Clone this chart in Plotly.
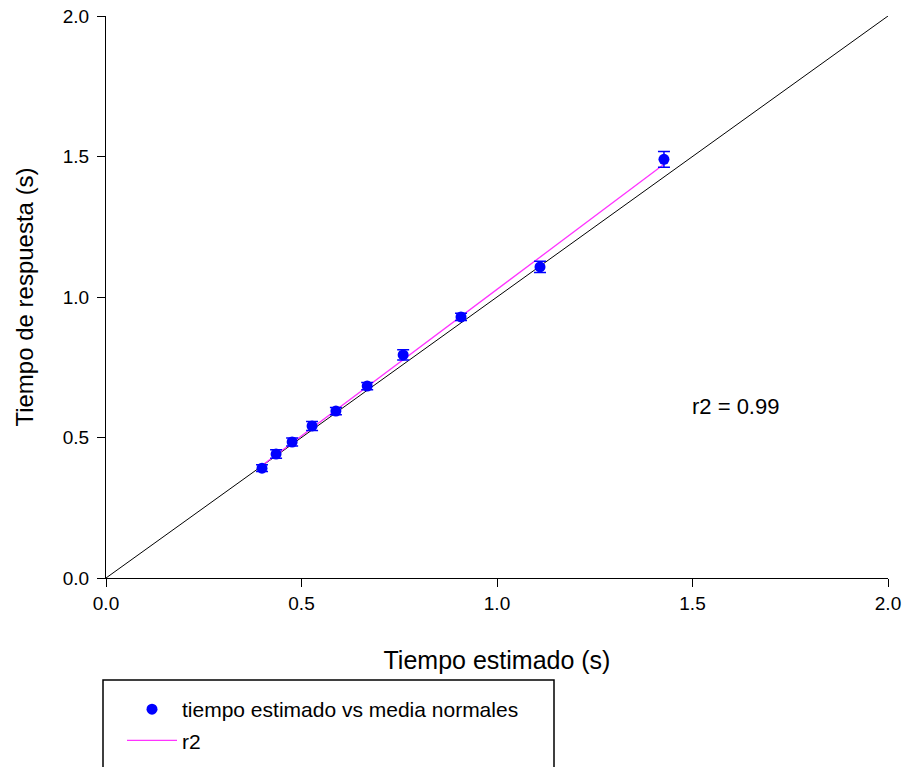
import numpy as np
import plotly.graph_objects as go

# Data
tiempo_estimado = [0.399, 0.435, 0.476, 0.527, 0.588, 0.668, 0.760, 0.908, 1.110, 1.427]
tiempo_respuesta = [0.391, 0.441, 0.484, 0.541, 0.594, 0.683, 0.794, 0.929, 1.107, 1.490]
error_respuesta = [0.012, 0.015, 0.014, 0.016, 0.013, 0.013, 0.018, 0.013, 0.020, 0.028]
identidad = [0.0, 2.0]
tick_vals = [0.0, 0.5, 1.0, 1.5, 2.0]
tick_text = ["0.0", "0.5", "1.0", "1.5", "2.0"]
r2_text = "r2 = 0.99"

# Linear fit (regression line)
slope, intercept = np.polyfit(tiempo_estimado, tiempo_respuesta, 1)
fit_x = [min(tiempo_estimado), max(tiempo_estimado)]
fit_y = [slope * v + intercept for v in fit_x]

W, H = 908, 767
ML, MR, MT, MB = 106, 20, 16, 189
PW = W - ML - MR
PH = H - MT - MB

def px_x(p):
    return (p - ML) / PW

def px_y(p):
    return (H - MB - p) / PH

FONT = "Liberation Sans, Arial, sans-serif"

fig = go.Figure()

fig.add_trace(go.Scatter(
    x=identidad, y=identidad, mode="lines",
    line=dict(color="black", width=1),
    showlegend=False, hoverinfo="skip",
))

fig.add_trace(go.Scatter(
    x=fit_x, y=fit_y, mode="lines",
    line=dict(color="#FF33FF", width=1.3),
    name="r2", legendgroup="b", legendrank=2,
))

fig.add_trace(go.Scatter(
    x=tiempo_estimado, y=tiempo_respuesta, mode="markers",
    marker=dict(color="#0000FF", size=11, symbol="circle"),
    error_y=dict(type="data", array=error_respuesta, color="#0000FF",
                 thickness=1.5, width=6),
    name="tiempo estimado vs media normales", legendgroup="a", legendrank=1,
))

fig.add_annotation(
    x=1.609, y=0.612, xref="x", yref="y", text=r2_text, showarrow=False,
    font=dict(family=FONT, size=22, color="black"),
)

# Legend box (open at the bottom, cut by the page edge)
bx0, bx1 = px_x(103), px_x(554)
by_top, by_bot = px_y(680), px_y(767)
fig.add_shape(
    type="path", xref="paper", yref="paper",
    path=f"M {bx0},{by_bot} L {bx0},{by_top} L {bx1},{by_top} L {bx1},{by_bot}",
    line=dict(color="black", width=1.5),
)

axis_common = dict(
    range=[0, 2], tickvals=tick_vals, ticktext=tick_text,
    showline=True, linecolor="black", linewidth=1.3,
    ticks="outside", ticklen=8, tickwidth=1.3, tickcolor="black",
    showgrid=False, zeroline=False, mirror=False, automargin=False,
    tickfont=dict(family=FONT, size=19, color="black"),
)

fig.update_layout(
    width=W, height=H,
    margin=dict(l=ML, r=MR, t=MT, b=MB, autoexpand=False),
    paper_bgcolor="white", plot_bgcolor="white",
    xaxis=dict(**axis_common,
               title=dict(text="Tiempo estimado (s)", standoff=38,
                          font=dict(family=FONT, size=25, color="black"))),
    yaxis=dict(**axis_common, ticklabelstandoff=4,
               title=dict(text="Tiempo de respuesta (s)", standoff=22,
                          font=dict(family=FONT, size=24, color="black"))),
    showlegend=True,
    legend=dict(
        x=px_x(122), y=px_y(689), xanchor="left", yanchor="top",
        font=dict(family=FONT, size=21, color="black"),
        bgcolor="rgba(0,0,0,0)", borderwidth=0,
        tracegroupgap=1, itemwidth=50,
    ),
)

fig.write_html("out.html")
